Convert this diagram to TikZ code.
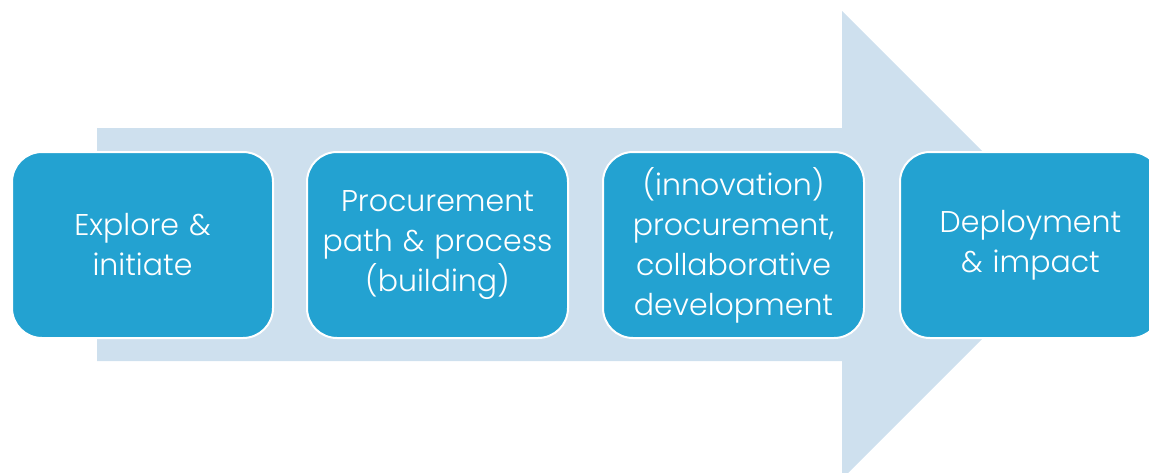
\documentclass[tikz,border=0pt]{standalone}
\usepackage{fontspec}
\setmainfont{Poppins}[UprightFont=* Light]
\definecolor{boxblue}{HTML}{23A2D1}
\definecolor{arrowblue}{HTML}{CEE0EE}
\begin{document}
\begin{tikzpicture}[x=1pt,y=-1pt,
  stage/.style={draw=white, line width=2pt, fill=boxblue, rounded corners=30pt,
    minimum width=261pt, minimum height=186pt, inner sep=0pt, anchor=north west,
    text=white, align=center, font=\fontsize{30}{40}\selectfont, text width=250pt}]
\useasboundingbox (0,0) rectangle (1149,472);
\clip (0,0) rectangle (1149,472);
\fill[arrowblue] (97,128) -- (842,128) -- (842,11) -- (1076,245) -- (842,479) -- (842,361) -- (97,361) -- cycle;
\node[stage] (s1) at (11,151) {Explore \&\\initiate};
\node[stage] (s2) at (306,151) {Procurement\\path \& process\\(building)};
\node[stage] (s3) at (602,151) {(innovation)\\procurement,\\collaborative\\development};
\node[stage] (s4) at (899,151) {Deployment\\\& impact};
\end{tikzpicture}
\end{document}
